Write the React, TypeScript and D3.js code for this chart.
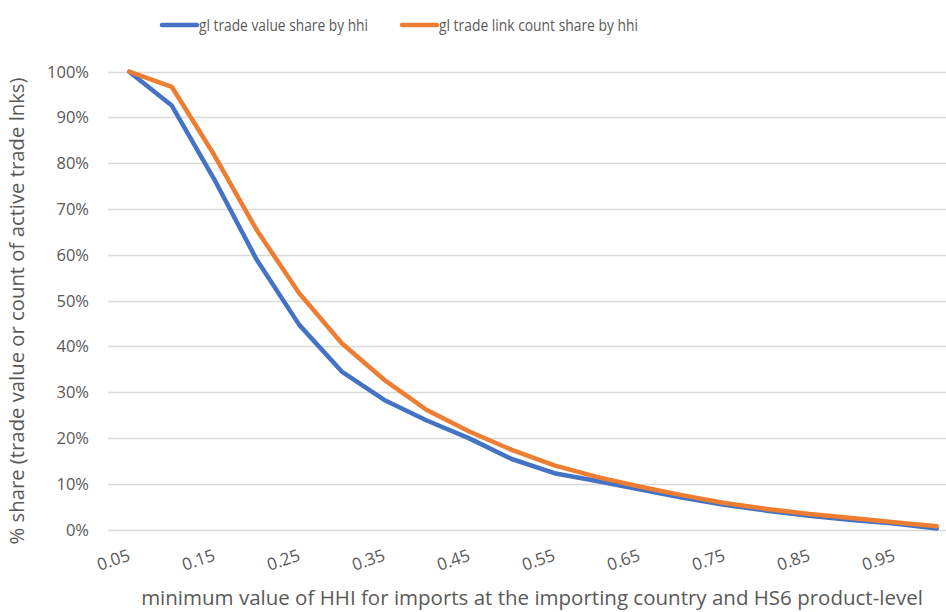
import React, { useEffect, useRef } from 'react';
import * as d3 from 'd3';

const categories = ['0.05', '0.10', '0.15', '0.20', '0.25', '0.30', '0.35', '0.40', '0.45', '0.50',
    '0.55', '0.60', '0.65', '0.70', '0.75', '0.80', '0.85', '0.90', '0.95', '1.00'];
const tickLabels = ['0.05', '0.15', '0.25', '0.35', '0.45', '0.55', '0.65', '0.75', '0.85', '0.95'];
const valueShare = [100, 92.6, 76.5, 58.9, 44.7, 34.5, 28.3, 23.8, 19.9, 15.4,
    12.3, 10.6, 8.8, 7.0, 5.4, 4.1, 3.0, 2.1, 1.3, 0.2];
const linkShare = [100, 96.7, 81.8, 65.4, 51.6, 40.7, 32.7, 26.1, 21.4, 17.4,
    14.0, 11.5, 9.4, 7.5, 5.8, 4.5, 3.4, 2.5, 1.6, 0.7];
const yTicks = [0, 10, 20, 30, 40, 50, 60, 70, 80, 90, 100];

const FONT = "'Open Sans', 'Noto Sans', sans-serif";
const TXT = '#595959';

export default function App() {
    const svgRef = useRef<SVGSVGElement>(null);

    useEffect(() => {
        if (!svgRef.current) return;
        const width = 946;
        const height = 612;
        const svg = d3.select(svgRef.current);
        svg.selectAll('*').remove();

        const x = d3.scaleBand<string>().domain(categories).range([108, 958]).padding(0);
        const cx = (c: string) => x(c)! + x.bandwidth() / 2;
        const y = d3.scaleLinear().domain([0, 100]).range([529.5, 71.7]);

        // gridlines
        svg.append('g')
            .selectAll('line')
            .data(yTicks)
            .enter()
            .append('line')
            .attr('x1', 108)
            .attr('x2', 958)
            .attr('y1', d => Math.round(y(d)) + 0.5)
            .attr('y2', d => Math.round(y(d)) + 0.5)
            .attr('stroke', '#d9d9d9')
            .attr('stroke-width', 1.3);

        // y labels
        svg.append('g')
            .selectAll('text')
            .data(yTicks)
            .enter()
            .append('text')
            .attr('x', 89)
            .attr('y', d => y(d) + 6)
            .attr('text-anchor', 'end')
            .attr('fill', TXT)
            .attr('font-size', '16.5px')
            .attr('font-family', FONT)
            .text(d => `${d}%`);

        // x labels, rotated
        svg.append('g')
            .selectAll('text')
            .data(tickLabels)
            .enter()
            .append('text')
            .attr('transform', d => `translate(${cx(d) + 2},${560}) rotate(-19)`)
            .attr('text-anchor', 'end')
            .attr('fill', TXT)
            .attr('font-size', '17px')
            .attr('font-family', FONT)
            .text(d => d);

        // lines
        const series = [
            { values: valueShare, color: '#4472c4' },
            { values: linkShare, color: '#ed7d31' },
        ];
        const line = d3.line<number>()
            .x((_, i) => cx(categories[i]))
            .y(d => y(d));
        series.forEach(s => {
            svg.append('path')
                .datum(s.values)
                .attr('d', line)
                .attr('fill', 'none')
                .attr('stroke', s.color)
                .attr('stroke-width', 4.5)
                .attr('stroke-linejoin', 'round')
                .attr('stroke-linecap', 'round');
        });

        // axis titles
        svg.append('text')
            .attr('transform', `translate(24,${311}) rotate(-90)`)
            .attr('text-anchor', 'middle')
            .attr('fill', TXT)
            .attr('font-size', '20.3px')
            .attr('font-family', FONT)
            .text('% share (trade value or count of active trade lnks)');

        svg.append('text')
            .attr('x', 532)
            .attr('y', 605)
            .attr('text-anchor', 'middle')
            .attr('fill', TXT)
            .attr('font-size', '20.5px')
            .attr('font-family', FONT)
            .text('minimum value of HHI for imports at the importing country and HS6 product-level');

        // legend
        const legend = [
            { label: 'gl trade value share by hhi', color: '#4472c4', x0: 162, len: 169 },
            { label: 'gl trade link count share by hhi', color: '#ed7d31', x0: 402, len: 199 },
        ];
        legend.forEach(l => {
            svg.append('line')
                .attr('x1', l.x0).attr('x2', l.x0 + 35)
                .attr('y1', 25).attr('y2', 25)
                .attr('stroke', l.color)
                .attr('stroke-width', 4.5)
                .attr('stroke-linecap', 'round');
            svg.append('text')
                .attr('x', l.x0 + 37)
                .attr('y', 31)
                .attr('fill', TXT)
                .attr('font-size', '15.5px')
                .attr('font-family', FONT)
                .attr('textLength', l.len)
                .attr('lengthAdjust', 'spacingAndGlyphs')
                .text(l.label);
        });

        svg.attr('width', width).attr('height', height);
    }, []);

    return (
        <svg
            ref={svgRef}
            width={946}
            height={612}
            style={{ position: 'absolute', left: 0, top: 0, background: '#fff' }}
        />
    );
}
